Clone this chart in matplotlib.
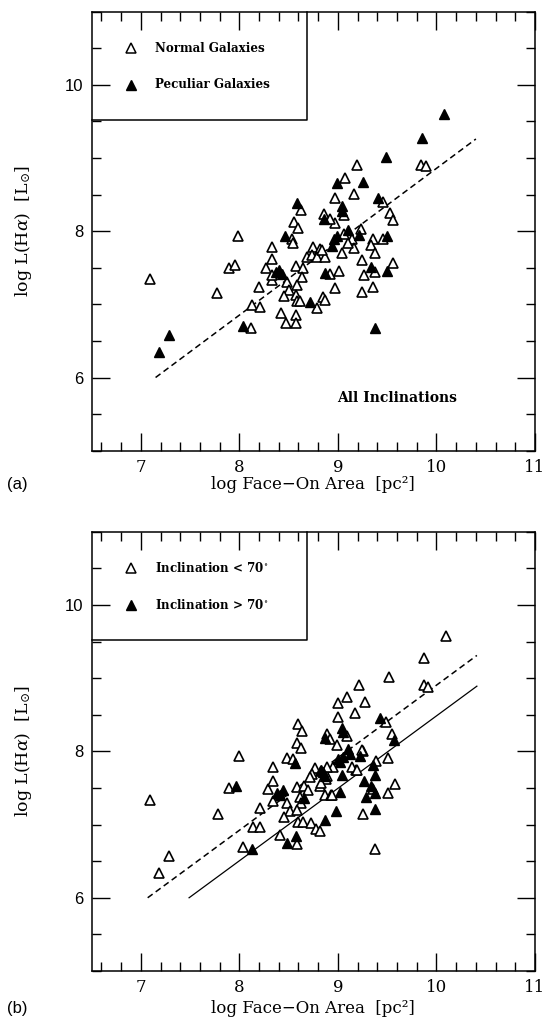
import numpy as np
import matplotlib
matplotlib.use("Agg")
import matplotlib.pyplot as plt
from matplotlib.ticker import MultipleLocator

plt.rcParams['mathtext.fontset'] = 'dejavuserif'

# panel (a): normal vs peculiar galaxies  (log area, log L(Ha))
a_normal = [
    (9.19, 8.91), (9.84, 8.90), (9.89, 8.89), (9.07, 8.73), (9.16, 8.51),
    (8.97, 8.46), (9.46, 8.40), (9.53, 8.25), (9.56, 8.15), (8.63, 8.29),
    (8.55, 8.13), (8.60, 8.05), (8.86, 8.24), (9.06, 8.22), (8.97, 8.11),
    (9.23, 8.03), (7.99, 7.94), (9.46, 7.90), (8.53, 7.90), (8.54, 7.84),
    (8.33, 7.78), (8.75, 7.79), (8.82, 7.75), (8.69, 7.65), (8.74, 7.68),
    (8.79, 7.65), (8.87, 7.65), (8.84, 7.74), (9.04, 7.70), (9.14, 7.90),
    (9.16, 7.77), (9.36, 7.89), (9.34, 7.81), (9.38, 7.70), (9.24, 7.61),
    (9.56, 7.56), (8.33, 7.62), (8.27, 7.50), (7.90, 7.50), (7.96, 7.54),
    (7.09, 7.35), (8.33, 7.33), (8.33, 7.40), (8.57, 7.52), (8.65, 7.49),
    (8.64, 7.38), (8.48, 7.31), (8.58, 7.27), (9.01, 7.45), (8.92, 7.41),
    (9.26, 7.40), (9.38, 7.44), (8.20, 7.24), (7.77, 7.15), (8.50, 7.19),
    (8.57, 7.13), (8.45, 7.11), (8.58, 7.05), (8.62, 7.04), (8.79, 6.95),
    (8.85, 7.10), (8.87, 7.06), (8.97, 7.22), (9.24, 7.17), (9.36, 7.24),
    (8.13, 6.99), (8.21, 6.97), (8.42, 6.88), (8.57, 6.86), (8.47, 6.75),
    (8.57, 6.75), (8.12, 6.67), (8.92, 8.17), (9.10, 7.84), (9.06, 7.96),
]
a_peculiar = [
    (10.08, 9.60), (9.85, 9.28), (9.49, 9.02), (9.25, 8.67), (8.99, 8.66),
    (9.41, 8.45), (8.58, 8.38), (9.04, 8.34), (9.04, 8.27), (8.86, 8.16),
    (9.10, 8.02), (9.21, 7.95), (9.50, 7.93), (8.99, 7.94), (8.96, 7.89),
    (8.94, 7.80), (8.46, 7.93), (8.37, 7.44), (8.40, 7.47), (8.43, 7.42),
    (8.87, 7.43), (9.34, 7.51), (9.50, 7.46), (8.72, 7.03), (8.04, 6.70),
    (7.29, 6.58), (7.18, 6.35), (9.38, 6.67),
]

# panel (b): inclination < 70 vs > 70
b_low = [
    (7.09, 7.34), (7.18, 6.34), (7.29, 6.57), (8.00, 7.93), (7.90, 7.50),
    (7.78, 7.14), (8.14, 6.97), (8.21, 6.96), (8.04, 6.69), (8.21, 7.22),
    (8.29, 7.49), (8.34, 7.78), (8.34, 7.60), (8.34, 7.32), (8.48, 7.91),
    (8.54, 7.89), (8.60, 8.37), (8.64, 8.28), (8.58, 8.12), (8.63, 8.05),
    (8.48, 7.30), (8.51, 7.19), (8.45, 7.10), (8.58, 7.51), (8.66, 7.53),
    (8.70, 7.47), (8.62, 7.38), (8.63, 7.29), (8.58, 7.20), (8.60, 7.04),
    (8.65, 7.04), (8.41, 6.86), (8.58, 6.73), (8.73, 7.02), (8.78, 6.94),
    (8.77, 7.77), (8.74, 7.69), (8.83, 7.73), (8.72, 7.65), (8.82, 7.53),
    (8.88, 7.62), (8.89, 7.66), (8.89, 8.24), (8.92, 8.17), (8.99, 8.08),
    (8.87, 7.40), (8.93, 7.40), (9.25, 8.00), (9.18, 7.75), (9.39, 7.87),
    (9.51, 7.91), (9.55, 8.24), (9.58, 7.55), (9.51, 7.43), (9.25, 7.15),
    (9.38, 6.66), (9.49, 8.40), (9.36, 7.48), (10.10, 9.58), (9.87, 9.28),
    (9.52, 9.02), (9.21, 8.91), (9.87, 8.90), (9.91, 8.88), (9.09, 8.74),
    (9.00, 8.66), (9.27, 8.67), (9.17, 8.52), (9.00, 8.47), (9.09, 8.21),
    (8.95, 7.79), (8.89, 7.79), (9.14, 7.79), (9.19, 7.75), (9.24, 8.02),
    (8.83, 7.57), (8.94, 7.41), (8.82, 6.91),
]
b_high = [
    (7.97, 7.53), (8.13, 6.67), (8.38, 7.43), (8.41, 7.41), (8.44, 7.47),
    (8.48, 6.75), (8.57, 6.84), (8.66, 7.36), (8.85, 7.72), (8.87, 7.06),
    (8.98, 7.19), (9.02, 7.44), (9.04, 7.68), (9.00, 7.89), (9.04, 8.32),
    (9.05, 8.26), (9.10, 8.03), (9.12, 7.96), (9.22, 7.93), (9.36, 7.82),
    (9.38, 7.68), (9.26, 7.59), (9.28, 7.38), (9.38, 7.43), (9.38, 7.21),
    (9.57, 8.16), (9.43, 8.45), (8.87, 8.18), (8.56, 7.84), (8.83, 7.75),
    (8.87, 7.66), (9.34, 7.52), (9.05, 7.92), (9.02, 7.85),
]

# fitted lines (end points)
fit_a_x = [7.15, 10.40]
fit_a_y = [6.00, 9.26]
fit_b_dash_x = [7.07, 10.41]
fit_b_dash_y = [6.00, 9.31]
fit_b_solid_x = [7.49, 10.41]
fit_b_solid_y = [6.00, 8.89]

legend_a = ["Normal Galaxies", "Peculiar Galaxies"]
legend_b = [r"Inclination < 70$^{\circ}$", r"Inclination > 70$^{\circ}$"]

SERIF = "DejaVu Serif"
SANS = "Liberation Sans"


def draw_panel(ax, open_pts, filled_pts, labels, xlab_y):
    op = np.array(open_pts)
    fp = np.array(filled_pts)
    ax.plot(op[:, 0], op[:, 1], '^', ms=7.4, mfc='white', mec='black',
            mew=1.2, ls='none', zorder=3)
    ax.plot(fp[:, 0], fp[:, 1], '^', ms=7.4, mfc='black', mec='black',
            mew=1.0, ls='none', zorder=4)

    ax.set_xlim(6.5, 11)
    ax.set_ylim(5, 11)
    ax.xaxis.set_major_locator(MultipleLocator(1))
    ax.xaxis.set_minor_locator(MultipleLocator(0.2))
    ax.yaxis.set_major_locator(MultipleLocator(2))
    ax.yaxis.set_minor_locator(MultipleLocator(0.5))
    ax.tick_params(which='both', direction='in', top=True, right=True,
                   width=1.0)
    ax.tick_params(which='major', length=13)
    ax.tick_params(which='minor', length=6.5)
    ax.tick_params(axis='x', pad=6, labelsize=12)
    ax.tick_params(axis='y', pad=6, labelsize=12)
    for lab in ax.get_xticklabels():
        lab.set_fontfamily(SERIF)
    for lab in ax.get_yticklabels():
        lab.set_fontfamily(SANS)
    for sp in ax.spines.values():
        sp.set_linewidth(1.1)

    # legend box in the upper left corner
    ax.plot([6.5, 8.69, 8.69], [9.52, 9.52, 11], color='black', lw=1.1,
            clip_on=False, zorder=2)
    ax.plot([6.9], [10.5], '^', ms=6.5, mfc='white', mec='black', mew=1.1)
    ax.plot([6.9], [10.0], '^', ms=6.5, mfc='black', mec='black', mew=1.0)
    ax.text(7.14, 10.5, labels[0], family=SERIF, fontsize=8.6,
            fontweight='bold', va='center', ha='left')
    ax.text(7.14, 10.0, labels[1], family=SERIF, fontsize=8.6,
            fontweight='bold', va='center', ha='left')

    ax.set_xlabel("log Face\u2212On Area  [pc\u00b2]", family=SERIF,
                  fontsize=12, va='center')
    ax.xaxis.set_label_coords(0.5, xlab_y)
    ax.set_ylabel(r"log L(H$\alpha$)  [L$_{\odot}$]", family=SERIF,
                  fontsize=12.5, va='center')
    ax.yaxis.set_label_coords(-0.154, 0.5)


fig = plt.figure(figsize=(5.46, 10.18), dpi=100)
ax1 = fig.add_axes([0.1676, 0.5573, 0.8123, 0.4312])
ax2 = fig.add_axes([0.1676, 0.0462, 0.8123, 0.4315])

draw_panel(ax1, a_normal, a_peculiar, legend_a, -0.078)
ax1.plot(fit_a_x, fit_a_y, color='black', lw=1.1, dashes=(4, 2.5))
ax1.text(8.99, 5.72, "All Inclinations", family=SERIF, fontsize=10,
         fontweight='bold', va='center', ha='left')

draw_panel(ax2, b_low, b_high, legend_b, -0.0855)
ax2.plot(fit_b_dash_x, fit_b_dash_y, color='black', lw=1.1, dashes=(4, 2.5))
ax2.plot(fit_b_solid_x, fit_b_solid_y, color='black', lw=0.9)

fig.text(0.012, 1 - 484 / 1018, "(a)", family=SANS, fontsize=12,
         va='center', ha='left')
fig.text(0.012, 1 - 1009 / 1018, "(b)", family=SANS, fontsize=12,
         va='center', ha='left')

fig.savefig("out.png", dpi=100)
